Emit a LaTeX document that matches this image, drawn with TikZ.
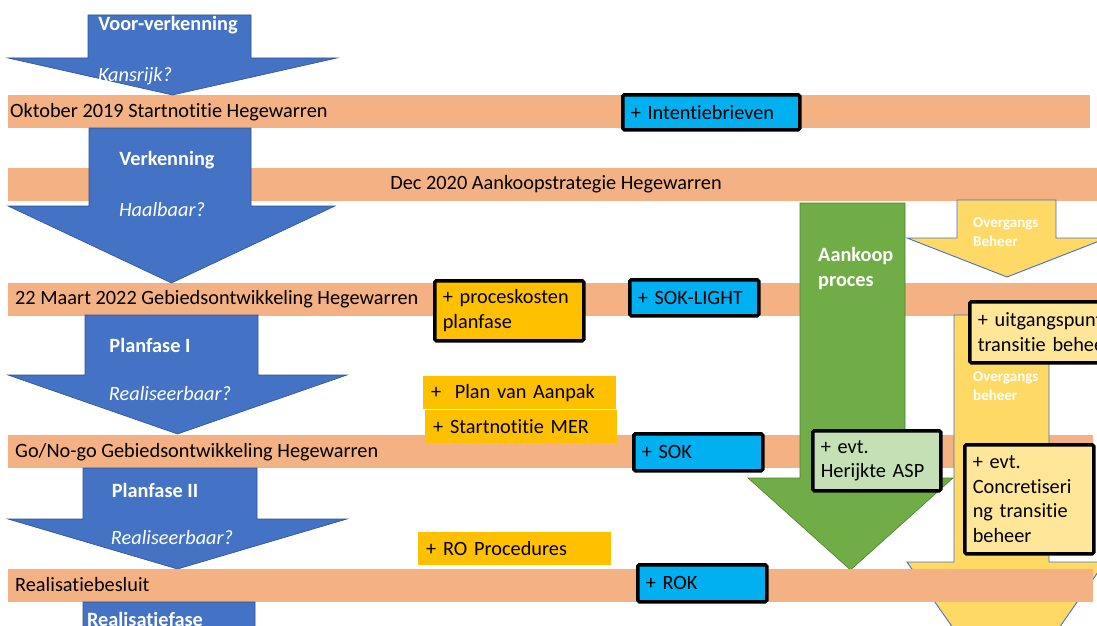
\documentclass[tikz,border=0pt]{standalone}
\usepackage{fontspec}
\setmainfont{Carlito}[Ligatures=NoCommon]
\definecolor{barc}{HTML}{F4B183}
\definecolor{bluea}{HTML}{4472C4}
\definecolor{blueedge}{HTML}{2F528F}
\definecolor{cyanbox}{HTML}{00B0F0}
\definecolor{orangebox}{HTML}{FFC000}
\definecolor{greena}{HTML}{70AD47}
\definecolor{greenedge}{HTML}{507E32}
\definecolor{greenbox}{HTML}{C5E0B4}
\definecolor{yellowa}{HTML}{FFD966}
\definecolor{yellowbox}{HTML}{FFE699}
\newcommand\dnarrow[8]{%
  \filldraw[#1] (#2,#4) -- (#3,#4) -- (#3,#5) -- (#7,#5) -- ({(#6+#7)/2},#8) -- (#6,#5) -- (#2,#5) -- cycle;}
\tikzset{
  bar/.style={fill=barc, inner sep=0pt, minimum height=33, anchor=north west},
  bartext/.style={anchor=west, inner sep=0pt, font=\fontsize{20.3}{24}\selectfont, text=black},
  bluearrow/.style={fill=bluea, draw=blueedge, line width=0.6pt},
  greenarrow/.style={fill=greena, draw=greenedge, line width=0.6pt},
  yellowarrow/.style={fill=yellowa, draw=bluea, line width=0.9pt},
  alabel/.style={inner sep=0pt, text=white, font=\fontsize{20.3}{24}\selectfont\bfseries},
  qlabel/.style={inner sep=0pt, text=white, font=\fontsize{20.3}{24}\selectfont\itshape},
  slabel/.style={inner sep=0pt, text=white, anchor=west, align=left, font=\fontsize{15}{19}\selectfont\bfseries},
  boxbase/.style={anchor=north west, inner xsep=8pt, inner ysep=0pt, align=left,
     font=\fontsize{20.3}{24.5}\selectfont, text=black},
  framed/.style={boxbase, draw=black, line width=3.5pt, rounded corners=1.5pt},
  cbox/.style={framed, fill=cyanbox},
  obox/.style={framed, fill=orangebox},
  oplain/.style={boxbase, fill=orangebox},
  gbox/.style={framed, fill=greenbox},
  ybox/.style={framed, fill=yellowbox},
}
\begin{document}
\begin{tikzpicture}[x=1pt,y=-1pt]
\useasboundingbox (0,0) rectangle (1097,626);
\clip (0,0) rectangle (1097,626);
% milestone bars
\node[bar, minimum width=1082] (bar1) at (8,95) {};
\node[bar, minimum width=1095] (bar2) at (8,168) {};
\node[bar, minimum width=1095] (bar3) at (8,283) {};
\node[bar, minimum width=1085] (bar4) at (8,435) {};
% blue phase arrows
\dnarrow{bluearrow}{88}{251}{15}{58}{8}{337}{95}
\dnarrow{bluearrow}{89}{251}{128}{206}{8}{335}{283}
\dnarrow{bluearrow}{85}{258}{315}{375}{8}{347}{434}
\dnarrow{bluearrow}{83}{257}{468}{519}{8}{347}{569}
% green arrow
\dnarrow{greenarrow}{800}{905}{203}{478}{748}{953}{570}
% yellow arrows
\dnarrow{yellowarrow}{957}{1056}{200}{238}{907}{1107}{277}
\dnarrow{yellowarrow}{954}{1049}{315}{562}{907}{1105}{704}
% last bar and last arrow
\node[bar, minimum width=1085] (bar5) at (8,569) {};
\dnarrow{bluearrow}{83}{255}{602}{720}{8}{347}{780}
% bar texts
\node[bartext] (t1) at (10,112) {Oktober 2019 Startnotitie Hegewarren};
\node[bartext, anchor=center] (t2) at (556,184) {Dec 2020 Aankoopstrategie Hegewarren};
\node[bartext] (t3) at (15,299) {22 Maart 2022 Gebiedsontwikkeling Hegewarren};
\node[bartext] (t4) at (15,452) {Go/No-go Gebiedsontwikkeling Hegewarren};
\node[bartext] (t5) at (15,585) {Realisatiebesluit};
% arrow labels
\node[alabel] (l1) at (168,25) {Voor-verkenning};
\node[qlabel] (q1) at (135,76) {Kansrijk?};
\node[alabel] (l2) at (167,160) {Verkenning};
\node[qlabel] (q2) at (162,210) {Haalbaar?};
\node[alabel] (l3) at (150,345) {Planfase I};
\node[qlabel] (q3) at (170,394) {Realiseerbaar?};
\node[alabel] (l4) at (155,490) {Planfase II};
\node[qlabel] (q4) at (172,538) {Realiseerbaar?};
\node[alabel] (l5) at (145,619) {Realisatiefase};
\node[alabel, anchor=west, align=left, font=\fontsize{20.3}{25}\selectfont\bfseries] (l6) at (818,268) {Aankoop\\proces};
\node[slabel] (l7) at (973,232) {Overgangs\\Beheer};
\node[slabel] (l8) at (973,386) {Overgangs\\beheer};
% boxes
\node[cbox, minimum width=177, minimum height=35, text width=161] (c1) at (621,93) {+ Intentiebrieven};
\node[obox, minimum width=149, minimum height=60, text width=133] (o1) at (433,279) {+ proceskosten\\planfase};
\node[cbox, minimum width=129, minimum height=36, text width=113] (c2) at (628,278) {+ SOK-LIGHT};
\node[oplain, minimum width=193, minimum height=33, text width=177] (o2) at (423,376) {+\ \ Plan van Aanpak};
\node[oplain, minimum width=192, minimum height=33, text width=176] (o3) at (425,410) {+ Startnotitie MER};
\node[cbox, minimum width=129, minimum height=37, text width=113] (c3) at (632,432) {+ SOK};
\node[oplain, minimum width=193, minimum height=33, text width=177] (o4) at (418,532) {+ RO Procedures};
\node[cbox, minimum width=129, minimum height=37, text width=113] (c4) at (636,563) {+ ROK};
\node[gbox, minimum width=128, minimum height=60, text width=112] (g1) at (811,429) {+ evt.\\Herijkte ASP};
\node[ybox, minimum width=170, minimum height=61, text width=154] (y1) at (968,300) {+ uitgangspunt\\transitie beheer};
\node[ybox, minimum width=129, minimum height=109, text width=113] (y2) at (963,443) {+ evt.\\Concretiseri\\ng transitie\\beheer};
\end{tikzpicture}
\end{document}
